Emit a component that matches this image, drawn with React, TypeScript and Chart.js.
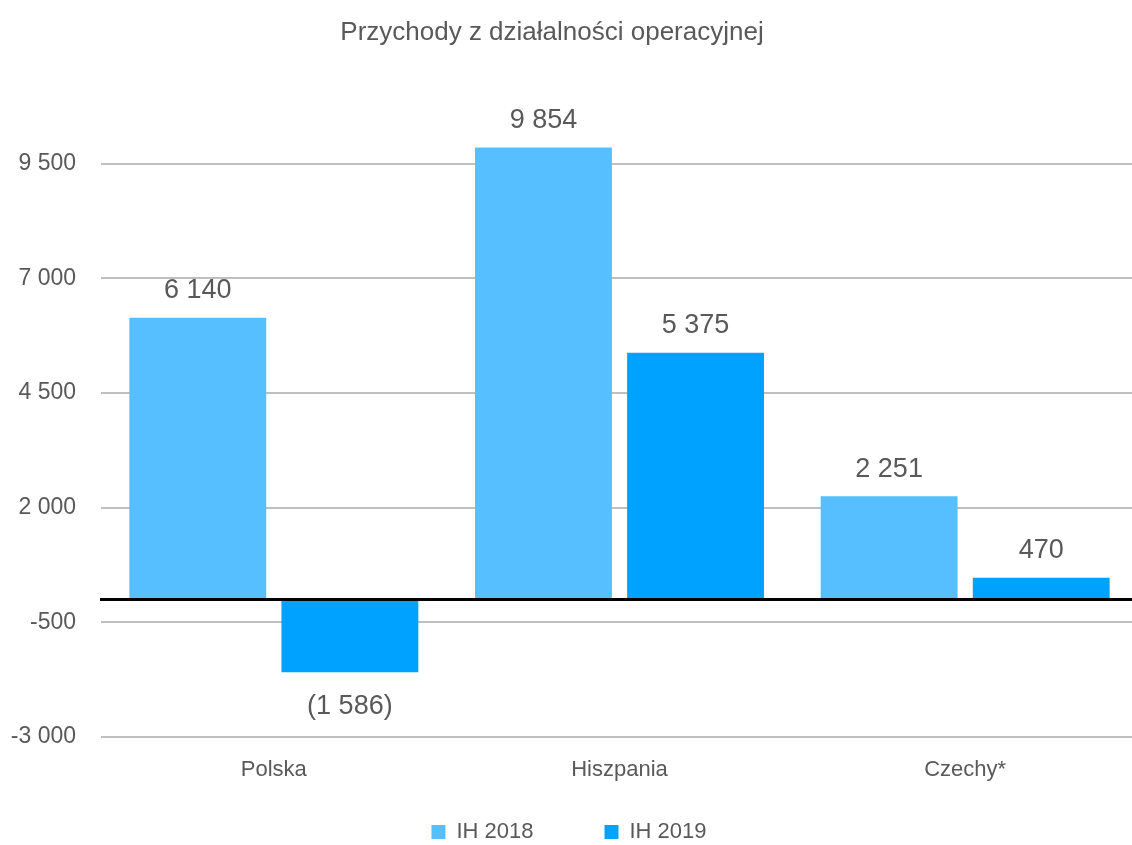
import React, { useEffect, useRef } from 'react';
import { Chart, registerables } from 'chart.js';

Chart.register(...registerables);

const chartTitle = 'Przychody z działalności operacyjnej';
const categories = ['Polska', 'Hiszpania', 'Czechy*'];
const seriesNames = ['IH 2018', 'IH 2019'];
const values2018 = [6140, 9854, 2251];
const values2019 = [-1586, 5375, 470];
const yTicks = [-3000, -500, 2000, 4500, 7000, 9500];
const yMin = -3000;
const yMax = 12000;
const colors = ['#55BFFF', '#00A2FF'];

const FONT = "'Liberation Sans', Arial, sans-serif";
const TEXT = '#595959';

function group(v: number): string {
  return Math.abs(v).toString().replace(/\B(?=(\d{3})+(?!\d))/g, ' ');
}
function fmtLabel(v: number): string {
  return v < 0 ? `(${group(v)})` : group(v);
}
function fmtTick(v: number): string {
  return (v < 0 ? '-' : '') + group(v);
}

const overlay = {
  id: 'overlay',
  afterLayout(chart: any) {
    // let the category labels sit below the thin x-axis box without being clipped
    const s = chart.scales.x;
    s.bottom = s.top + 70;
    s.height = 70;
  },
  afterDatasetsDraw(chart: any) {
    const ctx = chart.ctx;
    const y = chart.scales.y;
    const area = chart.chartArea;
    const y0 = y.getPixelForValue(0);
    ctx.save();
    ctx.strokeStyle = '#000000';
    ctx.lineWidth = 3;
    ctx.beginPath();
    ctx.moveTo(area.left - 1, y0);
    ctx.lineTo(area.right, y0);
    ctx.stroke();

    ctx.font = `27px ${FONT}`;
    ctx.fillStyle = TEXT;
    ctx.textAlign = 'center';
    ctx.textBaseline = 'middle';
    chart.data.datasets.forEach((ds: any, i: number) => {
      const meta = chart.getDatasetMeta(i);
      meta.data.forEach((el: any, j: number) => {
        const v = ds.data[j];
        const yy = v >= 0 ? el.y - 27 : el.y + 34;
        ctx.fillText(fmtLabel(v), el.x, yy);
      });
    });

    ctx.font = `26px ${FONT}`;
    ctx.fillText(chartTitle, 552, 33);
    ctx.restore();
  },
};

export default function App() {
  const ref = useRef<HTMLCanvasElement | null>(null);

  useEffect(() => {
    if (!ref.current) return;
    const chart = new Chart(ref.current, {
      type: 'bar',
      data: {
        labels: categories,
        datasets: [
          {
            label: seriesNames[0],
            data: values2018,
            backgroundColor: colors[0],
            categoryPercentage: 0.88,
            barPercentage: 0.9,
          },
          {
            label: seriesNames[1],
            data: values2019,
            backgroundColor: colors[1],
            categoryPercentage: 0.88,
            barPercentage: 0.9,
          },
        ],
      },
      options: {
        responsive: false,
        animation: false,
        layout: { padding: { top: 49, left: 0, right: 0, bottom: 0 } },
        plugins: {
          title: { display: false },
          tooltip: { enabled: false },
          legend: {
            position: 'bottom',
            labels: {
              boxWidth: 14,
              boxHeight: 14,
              padding: 71,
              color: TEXT,
              font: { family: FONT, size: 22 },
            },
          },
        },
        scales: {
          x: {
            grid: { display: false, drawTicks: false },
            border: { display: false },
            ticks: {
              color: TEXT,
              padding: 20,
              font: { family: FONT, size: 22 },
            },
            afterFit: (scale: any) => {
              scale.height = 13;
            },
          },
          y: {
            min: yMin,
            max: yMax,
            grid: { color: '#BFBFBF', lineWidth: 2, drawTicks: false },
            border: { display: false },
            ticks: {
              color: TEXT,
              padding: 25,
              font: { family: FONT, size: 23 },
              callback: (v: any) => fmtTick(Number(v)),
            },
            afterBuildTicks: (scale: any) => {
              scale.ticks = yTicks.map((v) => ({ value: v }));
            },
            afterFit: (scale: any) => {
              scale.width = 101;
            },
          },
        },
      },
      plugins: [overlay],
    });
    return () => chart.destroy();
  }, []);

  return (
    <div
      style={{
        position: 'absolute',
        left: 0,
        top: 0,
        width: 1132,
        height: 845,
        overflow: 'hidden',
        background: '#ffffff',
      }}
    >
      <canvas ref={ref} width={1138} height={853} style={{ display: 'block' }} />
    </div>
  );
}
